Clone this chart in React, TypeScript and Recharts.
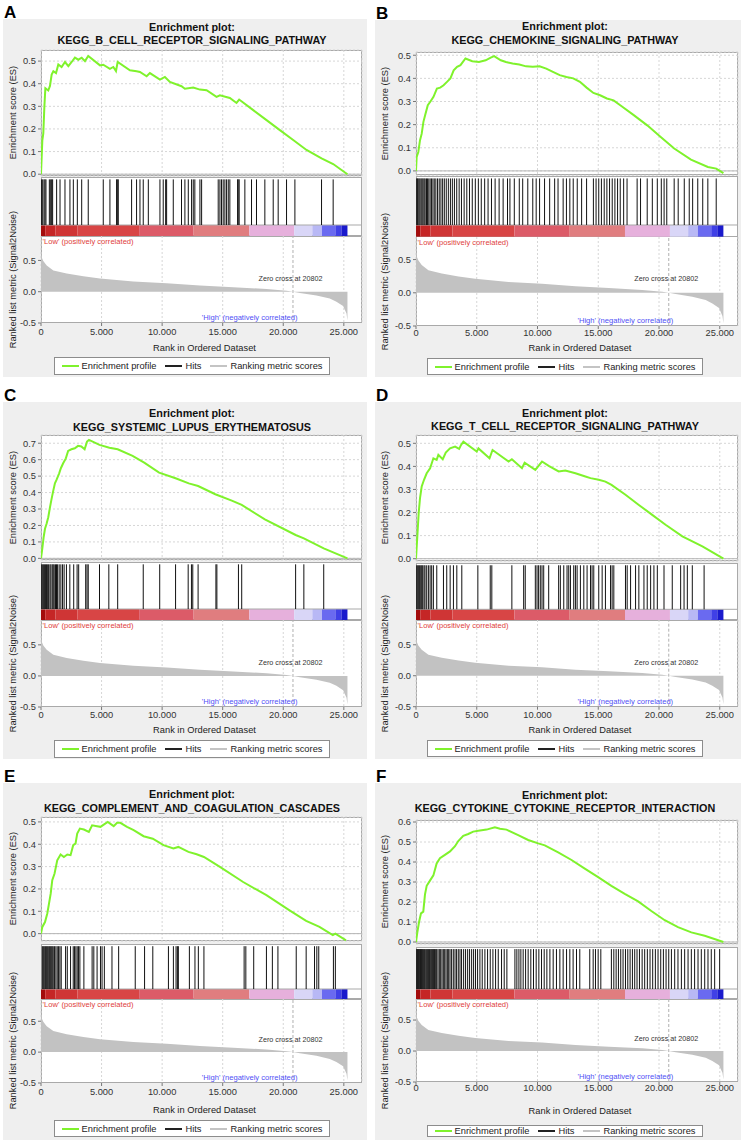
import React from 'react';
import {
  LineChart,
  Line,
  AreaChart,
  Area,
  ComposedChart,
  XAxis,
  YAxis,
  CartesianGrid,
  ReferenceLine,
  ReferenceArea,
  ReferenceDot,
} from 'recharts';

const FONT = '"Liberation Sans", Arial, Helvetica, sans-serif';
const GREEN = '#7ff22c';
const X_MAX = 26500;
const ZERO_CROSS = 20802;

const xTicks = [0, 5000, 10000, 15000, 20000, 25000];
const xTickLabels = ['0', '5.000', '10.000', '15.000', '20.000', '25.000'];
const esTicks5 = [0, 0.1, 0.2, 0.3, 0.4, 0.5];
const esTicks6 = [0, 0.1, 0.2, 0.3, 0.4, 0.5, 0.6];
const esTicks7 = [0, 0.1, 0.2, 0.3, 0.4, 0.5, 0.6, 0.7];
const rankTicks = [-0.5, 0, 0.5];

// ranked list metric (Signal2Noise) - same ordered dataset in every panel
const metricRank = [0, 80, 190, 470, 1020, 2120, 3500, 4870, 7620, 10370, 13120, 15870, 18620, 20270, 20802, 21370, 22740, 23840, 24390, 24940, 25220, 25300];
const metricValue = [0.65, 0.54, 0.49, 0.42, 0.34, 0.29, 0.245, 0.21, 0.163, 0.136, 0.098, 0.071, 0.043, 0.016, 0, -0.02, -0.06, -0.11, -0.16, -0.23, -0.35, -0.46];

// heat bar under the hits
const heatEdges = [0, 350, 1200, 3000, 8100, 12600, 17200, 20900, 22400, 23200, 24300, 24800, 25300];
const heatColors = ['#a30c0c', '#c52626', '#cf3535', '#d84545', '#dc5b68', '#e07d7f', '#e6b0dc', '#d9d6f7', '#b8b8f5', '#6a6af0', '#4040e6', '#1a1acc'];

const legendNames = ['Enrichment profile', 'Hits', 'Ranking metric scores'];
const legendColors = [GREEN, '#222', '#c4c4c4'];

// running enrichment score, [rank, ES]
const esA: [number, number][] = [[0, 0], [110, 0.15], [190, 0.18], [280, 0.3], [360, 0.38], [600, 0.37], [740, 0.39], [880, 0.44], [1020, 0.455], [1240, 0.447], [1430, 0.485], [1700, 0.474], [1980, 0.496], [2260, 0.478], [2530, 0.496], [2800, 0.515], [3080, 0.506], [3360, 0.515], [3630, 0.5], [3900, 0.523], [4870, 0.481], [5140, 0.484], [5690, 0.466], [5970, 0.474], [6190, 0.456], [6330, 0.496], [7340, 0.459], [7890, 0.455], [8170, 0.452], [8720, 0.433], [8990, 0.447], [9820, 0.418], [10230, 0.43], [10640, 0.408], [11600, 0.389], [11880, 0.378], [12570, 0.383], [13120, 0.374], [13670, 0.371], [14490, 0.342], [14770, 0.349], [15590, 0.337], [16140, 0.315], [16360, 0.33], [17520, 0.283], [18620, 0.239], [19720, 0.195], [20820, 0.151], [21920, 0.107], [23160, 0.07], [24120, 0.045], [25300, 0]];
const esB: [number, number][] = [[0, 0], [55, 0.06], [190, 0.082], [330, 0.133], [470, 0.161], [610, 0.212], [750, 0.241], [970, 0.284], [1160, 0.298], [1440, 0.32], [1720, 0.356], [1990, 0.36], [2270, 0.37], [2550, 0.385], [2830, 0.4], [3100, 0.435], [3380, 0.45], [3660, 0.457], [4070, 0.486], [4630, 0.474], [5180, 0.471], [5730, 0.478], [6150, 0.49], [6430, 0.496], [6980, 0.478], [7400, 0.471], [7950, 0.464], [8500, 0.46], [9060, 0.452], [9610, 0.45], [10170, 0.452], [10720, 0.442], [11270, 0.428], [11830, 0.414], [12380, 0.406], [12940, 0.4], [13490, 0.385], [14040, 0.36], [14600, 0.337], [15150, 0.327], [15710, 0.313], [16260, 0.305], [16810, 0.284], [17920, 0.241], [19030, 0.197], [20140, 0.147], [21250, 0.097], [22630, 0.049], [24020, 0.017], [24710, 0.01], [25300, -0.01]];
const esC: [number, number][] = [[0, 0], [110, 0.06], [220, 0.13], [330, 0.18], [460, 0.21], [600, 0.25], [740, 0.31], [870, 0.36], [1010, 0.41], [1150, 0.456], [1280, 0.477], [1500, 0.517], [1640, 0.548], [1830, 0.578], [2050, 0.608], [2240, 0.653], [2510, 0.663], [2790, 0.669], [3060, 0.684], [3330, 0.68], [3600, 0.663], [3800, 0.71], [3960, 0.72], [4830, 0.69], [5650, 0.673], [6330, 0.663], [7560, 0.623], [8520, 0.582], [9750, 0.521], [11110, 0.487], [12200, 0.456], [12970, 0.44], [14390, 0.39], [15750, 0.351], [16570, 0.325], [18480, 0.237], [21020, 0.142], [21700, 0.122], [23340, 0.061], [25300, 0]];
const esD: [number, number][] = [[0, 0], [110, 0.097], [220, 0.197], [330, 0.262], [470, 0.313], [660, 0.342], [880, 0.37], [1160, 0.392], [1430, 0.435], [1700, 0.428], [1840, 0.45], [2200, 0.431], [2450, 0.46], [2800, 0.478], [3220, 0.486], [3550, 0.476], [3710, 0.493], [3900, 0.507], [5000, 0.464], [5140, 0.478], [6050, 0.435], [6300, 0.471], [7620, 0.421], [7890, 0.431], [8720, 0.392], [8940, 0.416], [9820, 0.385], [10370, 0.421], [10920, 0.402], [11740, 0.378], [12290, 0.382], [13120, 0.37], [13940, 0.356], [14360, 0.349], [15040, 0.342], [15590, 0.334], [16090, 0.32], [17240, 0.277], [18340, 0.233], [19440, 0.19], [20540, 0.147], [21920, 0.097], [23570, 0.053], [25300, 0]];
const esE: [number, number][] = [[0, 0], [110, 0.03], [330, 0.052], [520, 0.09], [660, 0.134], [800, 0.179], [930, 0.239], [1120, 0.269], [1340, 0.328], [1620, 0.354], [1890, 0.343], [2170, 0.354], [2440, 0.351], [2660, 0.396], [2850, 0.403], [2990, 0.448], [3210, 0.47], [3540, 0.466], [3950, 0.455], [4220, 0.485], [4630, 0.481], [4910, 0.478], [5180, 0.488], [5510, 0.5], [6000, 0.481], [6280, 0.496], [6550, 0.496], [7100, 0.478], [7650, 0.463], [8470, 0.436], [9230, 0.425], [10110, 0.396], [10930, 0.381], [11340, 0.388], [12170, 0.366], [12850, 0.355], [13450, 0.343], [14770, 0.299], [16690, 0.231], [18610, 0.172], [20520, 0.104], [21890, 0.057], [22990, 0.03], [24090, -0.007], [24300, 0], [25180, -0.03]];
const esF: [number, number][] = [[0, 0], [110, 0.048], [250, 0.1], [410, 0.143], [600, 0.152], [740, 0.238], [880, 0.281], [1150, 0.307], [1430, 0.333], [1700, 0.393], [1970, 0.419], [2380, 0.436], [2800, 0.453], [3210, 0.479], [3480, 0.505], [3890, 0.531], [4300, 0.54], [4710, 0.552], [5260, 0.557], [5810, 0.562], [6490, 0.574], [6910, 0.566], [7450, 0.562], [8410, 0.534], [9230, 0.51], [10060, 0.493], [10600, 0.483], [11700, 0.448], [12800, 0.41], [13890, 0.367], [14990, 0.324], [16080, 0.281], [17180, 0.241], [18280, 0.203], [19370, 0.155], [20470, 0.109], [21560, 0.074], [22660, 0.048], [23760, 0.031], [25300, 0]];

// positions of the gene-set members in the ranked list
const hitsA = [50, 140, 250, 330, 410, 690, 800, 880, 960, 1290, 1570, 1980, 2390, 2670, 3000, 3360, 3900, 5140, 5690, 6240, 6300, 6380, 7480, 7890, 8170, 8440, 8860, 9820, 10090, 10290, 10370, 10920, 11600, 11880, 12160, 12430, 12570, 12700, 13120, 13260, 14630, 14770, 14900, 15040, 15180, 15320, 15460, 15590, 16230, 16280, 16360, 16830, 17380, 17790, 18480, 19170, 19580, 20270, 20960, 23160, 24120];
const hitsB = [55, 110, 170, 250, 330, 420, 500, 580, 670, 750, 860, 940, 1050, 1160, 1270, 1390, 1500, 1630, 1770, 1910, 2050, 2190, 2330, 2490, 2660, 2830, 2990, 3160, 3350, 3550, 3740, 3960, 4180, 4400, 4630, 4880, 5130, 5370, 5650, 5930, 6210, 6510, 6840, 7170, 7530, 7730, 8090, 8500, 8780, 9200, 9610, 9890, 10170, 10580, 11000, 11410, 11690, 12110, 12380, 12660, 12940, 13270, 13630, 14040, 14600, 14820, 15040, 15260, 15490, 15710, 15930, 16150, 16370, 16590, 16810, 17090, 17370, 18200, 18480, 19030, 19450, 19860, 20190, 20420, 20640, 21250, 21580, 22080, 22490, 22770, 23190, 23600, 24020, 24710];
const hitsC = [55, 140, 220, 300, 380, 460, 550, 630, 740, 820, 930, 1010, 1090, 1200, 1280, 1370, 1500, 1640, 1780, 1910, 2100, 2380, 2700, 2980, 3110, 3690, 3800, 3900, 4830, 5600, 6330, 8440, 9800, 11110, 12150, 12420, 12530, 12970, 14440, 14520, 16300, 16570, 21020, 21700, 23340];
const hitsD = [55, 140, 220, 300, 390, 470, 550, 660, 740, 880, 1020, 1160, 1290, 1430, 1710, 2260, 2530, 2810, 3080, 3360, 3770, 5090, 6110, 6240, 7890, 8860, 8990, 9820, 9960, 10090, 10230, 10370, 10510, 10920, 11740, 11880, 12160, 12430, 12570, 12710, 12980, 13120, 13260, 13530, 13810, 14080, 14360, 14490, 14630, 15040, 15320, 15590, 16010, 16140, 16280, 17240, 17380, 17660, 18070, 18340, 18760, 19030, 19310, 19580, 19860, 20410, 21090, 21780, 22060, 22330, 22740, 23710];
const hitsE = [110, 190, 270, 360, 440, 520, 600, 690, 770, 850, 930, 1010, 1120, 1230, 1340, 1450, 1560, 1670, 2030, 2170, 2440, 2660, 2770, 2880, 2990, 3100, 3210, 3540, 4220, 4360, 4630, 4910, 5040, 5230, 5860, 6410, 7780, 8550, 9230, 10520, 10930, 11150, 11260, 11340, 12250, 12710, 12990, 13450, 16770, 16910, 17560, 18610, 19100, 19560, 21070, 21890, 22580, 22770, 22930, 24140, 24300];
const hitsF = [55, 110, 160, 220, 270, 330, 380, 440, 490, 550, 630, 710, 800, 880, 960, 1040, 1120, 1210, 1290, 1370, 1450, 1530, 1620, 1700, 1810, 1920, 2030, 2140, 2250, 2360, 2470, 2580, 2690, 2800, 2930, 3070, 3210, 3340, 3480, 3620, 3750, 3920, 4080, 4250, 4410, 4580, 4740, 4900, 5070, 5260, 5450, 5670, 5890, 6110, 6330, 6550, 6770, 7040, 7260, 7480, 8140, 8300, 8470, 8630, 8820, 9020, 9230, 9450, 9670, 9890, 10110, 10330, 10550, 10770, 11020, 11290, 11560, 11840, 12110, 12390, 12660, 12930, 13210, 13480, 14300, 14580, 14770, 14990, 15210, 16080, 16280, 16470, 16660, 16850, 17040, 17240, 17430, 17620, 17810, 18000, 18190, 18390, 18610, 18820, 19040, 19260, 19480, 19700, 19920, 20140, 20360, 20580, 20800, 21020, 21290, 21560, 21840, 22110, 22390, 22660, 22930, 23210, 23480, 23760, 24030, 24300, 24580, 24990];

type Box = {
  bgL: number; bgR: number; bgT: number; bgB: number;
  plotL: number; plotR: number; t1: number; t2: number;
  esT: number; esB: number; hitsT: number; cbT: number; cbB: number; rkB: number;
  tickY: number; labY: number; legT: number; legB: number;
};

const boxA: Box = { bgL: 3, bgR: 367, bgT: 19, bgB: 377, plotL: 41, plotR: 362, t1: 27, t2: 40.5, esT: 50, esB: 176, hitsT: 177, cbT: 225, cbB: 236, rkB: 323, tickY: 332, labY: 349, legT: 357, legB: 375 };
const boxB: Box = { bgL: 375, bgR: 741, bgT: 20, bgB: 377, plotL: 416, plotR: 738, t1: 26.7, t2: 40, esT: 51.7, esB: 175, hitsT: 176, cbT: 225, cbB: 236.7, rkB: 325.7, tickY: 332, labY: 349, legT: 358, legB: 375 };
const boxC: Box = { bgL: 3, bgR: 367, bgT: 402, bgB: 759, plotL: 41, plotR: 362, t1: 413.6, t2: 427, esT: 435, esB: 560, hitsT: 562, cbT: 609, cbB: 620, rkB: 707, tickY: 715, labY: 731, legT: 740, legB: 758 };
const boxD: Box = { bgL: 375, bgR: 741, bgT: 402, bgB: 759, plotL: 416, plotR: 738, t1: 413.3, t2: 426.7, esT: 435, esB: 561, hitsT: 563, cbT: 609.3, cbB: 620, rkB: 706.7, tickY: 715, labY: 731, legT: 740, legB: 757 };
const boxE: Box = { bgL: 3, bgR: 367, bgT: 783, bgB: 1140, plotL: 41, plotR: 362, t1: 794.5, t2: 808, esT: 816.7, esB: 940.7, hitsT: 944, cbT: 989, cbB: 999, rkB: 1083, tickY: 1092, labY: 1111, legT: 1120, legB: 1137 };
const boxF: Box = { bgL: 375, bgR: 741, bgT: 783, bgB: 1140, plotL: 416, plotR: 738, t1: 795.5, t2: 808, esT: 820, esB: 944, hitsT: 947, cbT: 989, cbB: 999, rkB: 1082, tickY: 1088, labY: 1112, legT: 1125, legB: 1137 };

type PanelSpec = {
  letter: string;
  title: string;
  es: [number, number][];
  hits: number[];
  esDomain: [number, number];
  esTicks: number[];
  rankMax: number;
  box: Box;
};

const panels: PanelSpec[] = [
  { letter: 'A', title: 'KEGG_B_CELL_RECEPTOR_SIGNALING_PATHWAY', es: esA, hits: hitsA, esDomain: [-0.008, 0.549], esTicks: esTicks5, rankMax: 0.89, box: boxA },
  { letter: 'B', title: 'KEGG_CHEMOKINE_SIGNALING_PATHWAY', es: esB, hits: hitsB, esDomain: [-0.019, 0.514], esTicks: esTicks5, rankMax: 0.84, box: boxB },
  { letter: 'C', title: 'KEGG_SYSTEMIC_LUPUS_ERYTHEMATOSUS', es: esC, hits: hitsC, esDomain: [-0.01, 0.75], esTicks: esTicks7, rankMax: 0.9, box: boxC },
  { letter: 'D', title: 'KEGG_T_CELL_RECEPTOR_SIGNALING_PATHWAY', es: esD, hits: hitsD, esDomain: [-0.01, 0.536], esTicks: esTicks5, rankMax: 0.9, box: boxD },
  { letter: 'E', title: 'KEGG_COMPLEMENT_AND_COAGULATION_CASCADES', es: esE, hits: hitsE, esDomain: [-0.033, 0.522], esTicks: esTicks5, rankMax: 0.86, box: boxE },
  { letter: 'F', title: 'KEGG_CYTOKINE_CYTOKINE_RECEPTOR_INTERACTION', es: esF, hits: hitsF, esDomain: [-0.01, 0.61], esTicks: esTicks6, rankMax: 0.84, box: boxF },
];

const metricData = metricRank.map((r, i) => ({ r, m: metricValue[i] }));

const TXT = '#222';
const tickStyle = { fontSize: 9.3, fill: '#333', fontFamily: FONT };

function Txt(props: { x: number; y: number; size: number; children: React.ReactNode; bold?: boolean; color?: string; rotate?: boolean }) {
  const { x, y, size, children, bold, color, rotate } = props;
  return (
    <div
      style={{
        position: 'absolute',
        left: x - 200,
        top: y - size * 0.6,
        width: 400,
        height: size * 1.2,
        lineHeight: `${size * 1.2}px`,
        fontSize: size,
        fontFamily: FONT,
        fontWeight: bold ? 'bold' : 'normal',
        color: color || TXT,
        textAlign: 'center',
        whiteSpace: 'nowrap',
        transform: rotate ? 'rotate(-90deg)' : undefined,
      }}
    >
      {children}
    </div>
  );
}

function Panel({ p }: { p: PanelSpec }) {
  const L = p.box;
  const YW = 40;
  const chartLeft = L.plotL - YW;
  const chartW = L.plotR - L.plotL + YW;
  const cx = (L.bgL + L.bgR) / 2 + 7;
  const plotW = L.plotR - L.plotL;
  const esH = L.esB - L.esT;
  const hitsH = L.cbB - L.hitsT;
  const cbFrac = (L.cbB - L.cbT) / hitsH;
  const rkH = L.rkB - L.cbB;
  const XH = 25;
  const esData = p.es.map(([r, es]) => ({ r, es }));
  const hitData = p.hits.map((r) => ({ r }));
  const fmt = (v: number) => v.toFixed(1);
  const boxStyle = (top: number, h: number): React.CSSProperties => ({
    position: 'absolute', left: L.plotL, top, width: plotW, height: h,
    boxSizing: 'border-box', border: '1px solid #a9a9a9', background: '#fff',
  });

  return (
    <>
      <div style={{ position: 'absolute', left: L.bgL, top: L.bgT, width: L.bgR - L.bgL, height: L.bgB - L.bgT, background: '#efefef' }} />
      <div style={{ position: 'absolute', left: L.bgL + 1, top: L.bgT - 15.5, fontSize: 17, lineHeight: '17px', fontWeight: 'bold', fontFamily: FONT, color: '#000' }}>
        {p.letter}
      </div>
      <Txt x={cx} y={L.t1} size={10.8} bold color="#111">Enrichment plot:</Txt>
      <Txt x={cx} y={L.t2} size={10.8} bold color="#111">{p.title}</Txt>

      {/* plot boxes */}
      <div style={boxStyle(L.esT, esH)} />
      <div style={boxStyle(L.hitsT, hitsH)} />
      <div style={boxStyle(L.cbB - 0.5, rkH + 0.5)} />

      {/* enrichment score */}
      <div style={{ position: 'absolute', left: chartLeft, top: L.esT }}>
        <LineChart width={chartW} height={esH} data={esData} margin={{ top: 0, right: 0, bottom: 0, left: 0 }}>
          <CartesianGrid stroke="#d6d6d6" strokeDasharray="2 2" />
          <XAxis dataKey="r" type="number" domain={[0, X_MAX]} ticks={xTicks} hide allowDataOverflow />
          <YAxis
            type="number"
            domain={p.esDomain}
            ticks={p.esTicks}
            width={YW}
            tickFormatter={fmt}
            tick={tickStyle}
            tickSize={3}
            tickMargin={2}
            axisLine={false}
            tickLine={{ stroke: '#777' }}
            allowDataOverflow
            interval={0}
          />
          <ReferenceLine y={0} stroke="#b5b5b5" />
          <Line dataKey="es" type="linear" stroke={GREEN} strokeWidth={2} dot={false} isAnimationActive={false} />
        </LineChart>
      </div>

      {/* hits and heat bar */}
      <div style={{ position: 'absolute', left: chartLeft, top: L.hitsT }}>
        <ComposedChart width={chartW} height={hitsH} data={hitData} margin={{ top: 0, right: 0, bottom: 0, left: YW }}>
          <XAxis dataKey="r" type="number" domain={[0, X_MAX]} hide allowDataOverflow />
          <YAxis type="number" domain={[0, 1]} hide allowDataOverflow />
          {heatColors.map((c, i) => (
            <ReferenceArea key={`h${i}`} x1={heatEdges[i]} x2={heatEdges[i + 1]} y1={0} y2={cbFrac} fill={c} fillOpacity={1} stroke="none" />
          ))}
          <ReferenceLine y={cbFrac} stroke="#a9a9a9" />
          {p.hits.map((r, i) => (
            <ReferenceLine key={`k${i}`} segment={[{ x: r, y: cbFrac }, { x: r, y: 0.96 }]} stroke="#111" strokeWidth={1} />
          ))}
        </ComposedChart>
      </div>

      {/* ranked list metric */}
      <div style={{ position: 'absolute', left: chartLeft, top: L.cbB }}>
        <AreaChart width={chartW} height={rkH + XH} data={metricData} margin={{ top: 0, right: 0, bottom: 0, left: 0 }}>
          <CartesianGrid horizontal={false} stroke="#d6d6d6" strokeDasharray="2 2" />
          <XAxis
            dataKey="r"
            type="number"
            domain={[0, X_MAX]}
            ticks={xTicks}
            interval={0}
            height={XH}
            tickFormatter={(v: number) => xTickLabels[xTicks.indexOf(v)]}
            tick={tickStyle}
            tickSize={3}
            tickMargin={L.tickY - 3.3 - L.rkB - 3}
            axisLine={false}
            tickLine={{ stroke: '#777' }}
            allowDataOverflow
          />
          <YAxis
            type="number"
            domain={[-0.5, p.rankMax]}
            ticks={rankTicks}
            width={YW}
            tickFormatter={fmt}
            tick={tickStyle}
            tickSize={3}
            tickMargin={2}
            axisLine={false}
            tickLine={{ stroke: '#777' }}
            allowDataOverflow
            interval={0}
          />
          <Area dataKey="m" type="linear" fill="#c2c2c2" fillOpacity={1} stroke="none" baseValue={0} isAnimationActive={false} />
          <ReferenceLine x={ZERO_CROSS} stroke="#b0b0b0" strokeDasharray="3 2" />
          <ReferenceDot x={0} y={p.rankMax - 0.08} r={0.5} fill="none" stroke="none"
            label={{ value: "'Low' (positively correlated)", position: 'right', offset: 1, fontSize: 7.6, fill: '#e0403c', fontFamily: FONT }} />
          <ReferenceDot x={17230} y={-0.41} r={0.5} fill="none" stroke="none"
            label={{ value: "'High' (negatively correlated)", position: 'center', fontSize: 7.6, fill: '#4f4ff5', fontFamily: FONT }} />
          <ReferenceDot x={20600} y={0.21} r={0.5} fill="none" stroke="none"
            label={{ value: 'Zero cross at 20802', position: 'center', fontSize: 7.2, fill: '#333', fontFamily: FONT }} />
        </AreaChart>
      </div>

      <Txt x={L.bgL + 11} y={(L.esT + L.esB) / 2} size={9.3} rotate>Enrichment score (ES)</Txt>
      <Txt x={L.bgL + 11} y={(L.cbB + L.rkB) / 2} size={9.3} rotate>Ranked list metric (Signal2Noise)</Txt>
      <Txt x={(L.plotL + L.plotR) / 2 + 3} y={L.labY} size={9.3}>Rank in Ordered Dataset</Txt>

      <div
        style={{
          position: 'absolute', left: cx - 138, top: L.legT, width: 276, height: L.legB - L.legT,
          boxSizing: 'border-box', border: '1px solid #8c8c8c', background: '#fff',
          display: 'flex', alignItems: 'center', justifyContent: 'center', gap: 9,
          fontSize: 9.3, fontFamily: FONT, color: TXT, whiteSpace: 'nowrap',
        }}
      >
        {legendNames.map((n, i) => (
          <div key={n} style={{ display: 'flex', alignItems: 'center', gap: 3 }}>
            <div style={{ width: 17, height: 2, background: legendColors[i] }} />
            <span>{n}</span>
          </div>
        ))}
      </div>
    </>
  );
}

export default function App() {
  return (
    <div style={{ position: 'absolute', left: 0, top: 0, width: 743, height: 1140, background: '#fff', overflow: 'hidden' }}>
      <style>{'.recharts-surface{overflow:visible}'}</style>
      {panels.map((p) => (
        <Panel key={p.letter} p={p} />
      ))}
    </div>
  );
}
